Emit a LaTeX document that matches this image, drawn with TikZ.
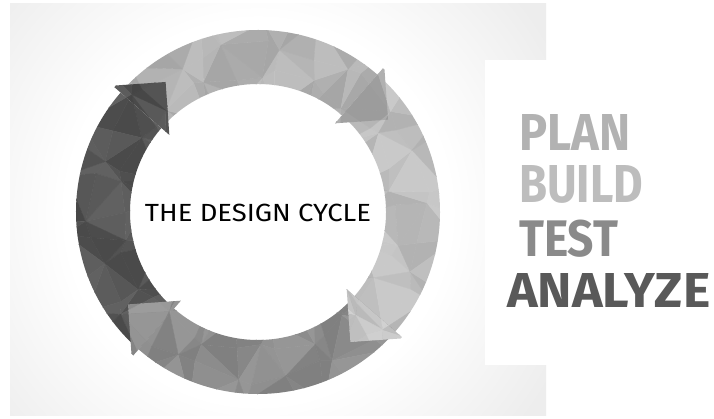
\documentclass[tikz,border=0pt]{standalone}
\usepackage{fontspec}
\usepackage{graphicx}
\newfontfamily\firafont{Fira Sans}
\pgfdeclareradialshading{bgglow}{\pgfpoint{0bp}{0bp}}{color(0bp)=(white); color(12bp)=(white); color(21bp)=(black!7); color(50bp)=(black!7)}
\newcommand\facetmesh[3]{%
  \foreach \i in {#1,...,#2}{%
    \foreach \j in {0,1,2}{%
      \pgfmathtruncatemacro\ip{\i+1}%
      \pgfmathtruncatemacro\jp{\j+1}%
      \coordinate (P00) at ({10*\i+3.5*sin(137*\i+59*\j)}:{110+28.5*\j+6*sin(83*\i+191*\j)});
      \coordinate (P10) at ({10*\ip+3.5*sin(137*\ip+59*\j)}:{110+28.5*\j+6*sin(83*\ip+191*\j)});
      \coordinate (P01) at ({10*\i+3.5*sin(137*\i+59*\jp)}:{110+28.5*\jp+6*sin(83*\i+191*\jp)});
      \coordinate (P11) at ({10*\ip+3.5*sin(137*\ip+59*\jp)}:{110+28.5*\jp+6*sin(83*\ip+191*\jp)});
      \pgfmathtruncatemacro\cA{#3+5*sin(71*\i+113*\j)}%
      \pgfmathtruncatemacro\cB{#3+5*sin(71*\i+113*\j+97)}%
      \pgfmathtruncatemacro\parity{mod(\i+\j+100,2)}%
      \ifnum\parity=0
        \filldraw[fill=black!\cA, draw=black!\cA, line width=0.4pt] (P00)--(P10)--(P11)--cycle;
        \filldraw[fill=black!\cB, draw=black!\cB, line width=0.4pt] (P00)--(P11)--(P01)--cycle;
      \else
        \filldraw[fill=black!\cA, draw=black!\cA, line width=0.4pt] (P00)--(P10)--(P01)--cycle;
        \filldraw[fill=black!\cB, draw=black!\cB, line width=0.4pt] (P10)--(P11)--(P01)--cycle;
      \fi
    }%
  }%
}
\newcommand\sectorpath[2]{(#1:182) arc[start angle=#1, end angle=#2, radius=182] -- (#2:128) arc[start angle=#2, end angle=#1, radius=128] -- cycle}
\newcommand\headpath[1]{(#1:117.5) -- (#1:192.5) -- ({#1-13.6}:159.5) -- cycle}
\begin{document}
\begin{tikzpicture}[x=1pt,y=1pt,
  bigword/.style={anchor=base west, inner sep=0pt, font=\firafont\bfseries}]
\useasboundingbox (0,0) rectangle (714,-419);
\fill[white] (0,0) rectangle (714,-419);
% background panel with glow
\begin{scope}
  \clip (10,-4) rectangle (546,-415);
  \shade[shading=bgglow] (258,-212) circle[radius=400];
\end{scope}
\fill[white] (485,-60) rectangle (714,-365);
% ring
\begin{scope}[shift={(258,-212)}]
  % segments
  \begin{scope}\clip \sectorpath{139}{229}; \facetmesh{12}{23}{67} \end{scope}
  \begin{scope}\clip \sectorpath{49}{139}; \facetmesh{3}{14}{31} \end{scope}
  \begin{scope}\clip \sectorpath{-41}{49}; \facetmesh{-6}{5}{26} \end{scope}
  \begin{scope}\clip \sectorpath{229}{319}; \facetmesh{21}{32}{46} \end{scope}
  % arrow heads
  \begin{scope}\clip \headpath{139}; \facetmesh{11}{14}{69} \end{scope}
  \begin{scope}\clip \headpath{49}; \facetmesh{2}{5}{36} \end{scope}
  \begin{scope}\clip \headpath{-41}; \facetmesh{-7}{-4}{23} \end{scope}
  \begin{scope}\clip \headpath{229}; \facetmesh{20}{23}{44} \end{scope}
  \node[anchor=base, inner sep=0pt] (title) at (0,-9.7) {\resizebox{226pt}{17.4pt}{\firafont THE DESIGN CYCLE}};
\end{scope}
% words
\node[bigword, text=black!30] (plan) at (519,-151) {\resizebox{111pt}{36pt}{PLAN}};
\node[bigword, text=black!26] (build) at (519,-203) {\resizebox{124pt}{37pt}{BUILD}};
\node[bigword, text=black!46] (test) at (519,-257) {\resizebox{99pt}{36.5pt}{TEST}};
\node[bigword, text=black!65] (analyze) at (507,-308) {\resizebox{203pt}{34pt}{ANALYZE}};
\end{tikzpicture}
\end{document}
